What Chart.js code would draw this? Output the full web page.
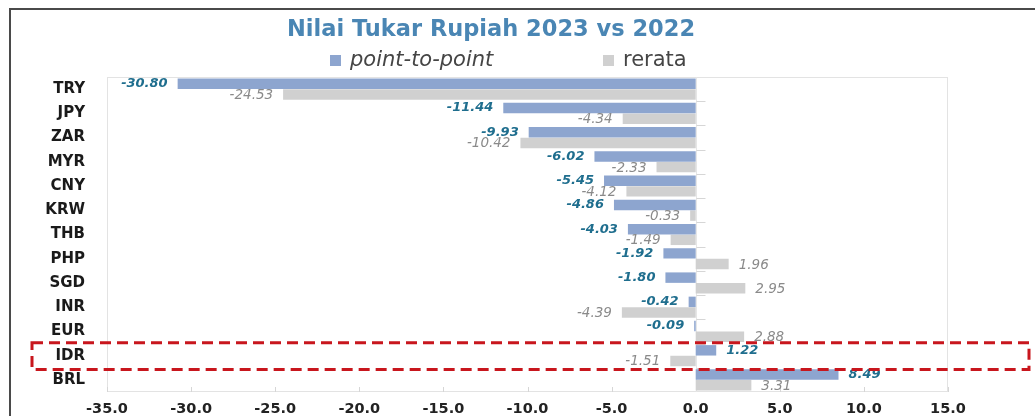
<!DOCTYPE html>
<html>
<head>
<meta charset="utf-8">
<script src="https://cdn.jsdelivr.net/npm/chart.js@4.4.0/dist/chart.umd.min.js"></script>
<style>
  html, body { margin: 0; padding: 0; background: #fff; }
  #wrap { width: 1035px; height: 416px; }
</style>
</head>
<body>
<div id="wrap"><canvas id="rupiahChart" width="1035" height="416"></canvas></div>
<script>
const categories = ["TRY", "JPY", "ZAR", "MYR", "CNY", "KRW", "THB", "PHP", "SGD", "INR", "EUR", "IDR", "BRL"];
const pointToPoint = [-30.80, -11.44, -9.93, -6.02, -5.45, -4.86, -4.03, -1.92, -1.80, -0.42, -0.09, 1.22, 8.49];
const rerata = [-24.53, -4.34, -10.42, -2.33, -4.12, -0.33, -1.49, 1.96, 2.95, -4.39, 2.88, -1.51, 3.31];
const xMin = -35, xMax = 15, xStep = 5;
const highlight = "IDR";

const FONT = "'DejaVu Sans', 'Open Sans', sans-serif";

// ---------- extras: frame, title, legend, value labels, red box ----------
const decor = {
  id: "decor",
  beforeDatasetsDraw(chart) {
    const { ctx, chartArea: a, scales } = chart;
    const x = scales.x;
    ctx.save();
    // plot area border
    ctx.strokeStyle = "#e3e3e3";
    ctx.lineWidth = 1;
    ctx.strokeRect(a.left + 0.5, a.top + 0.5, a.right - a.left - 1, a.bottom - a.top - 1);
    // small inner tick marks on the bottom
    ctx.strokeStyle = "#d6d6d6";
    x.ticks.forEach(t => {
      const px = Math.round(x.getPixelForValue(t.value)) + 0.5;
      ctx.beginPath();
      ctx.moveTo(px, a.bottom - 5);
      ctx.lineTo(px, a.bottom);
      ctx.stroke();
    });
    // axis line at zero + small category ticks
    const x0 = Math.round(x.getPixelForValue(0)) + 0.5;
    ctx.strokeStyle = "#e6e6e6";
    ctx.beginPath();
    ctx.moveTo(x0, a.top);
    ctx.lineTo(x0, a.bottom);
    ctx.stroke();
    ctx.strokeStyle = "#d6d6d6";
    const band = (a.bottom - a.top) / categories.length;
    for (let i = 1; i < categories.length; i++) {
      const py = Math.round(a.top + i * band) + 0.5;
      ctx.beginPath();
      ctx.moveTo(x0, py);
      ctx.lineTo(x0 + 9, py);
      ctx.stroke();
    }
    ctx.restore();
  },
  afterDatasetsDraw(chart) {
    const { ctx, chartArea: a, scales } = chart;
    ctx.save();

    // value labels
    const styles = [
      { font: "italic bold 13px " + FONT, color: "#1f6e8e", dy: 0 },
      { font: "italic 13.5px " + FONT, color: "#8a8a8a", dy: 1 }
    ];
    chart.data.datasets.forEach((ds, di) => {
      const meta = chart.getDatasetMeta(di);
      const st = styles[di];
      ctx.font = st.font;
      ctx.fillStyle = st.color;
      ctx.textBaseline = "middle";
      meta.data.forEach((bar, i) => {
        const v = ds.data[i];
        const txt = v.toFixed(2);
        if (v < 0) {
          ctx.textAlign = "right";
          ctx.fillText(txt, bar.x - 10, bar.y + st.dy);
        } else {
          ctx.textAlign = "left";
          ctx.fillText(txt, bar.x + 10, bar.y + st.dy);
        }
      });
    });

    // red dashed box around highlighted currency
    const band = (a.bottom - a.top) / categories.length;
    const hy = scales.y.getPixelForValue(categories.indexOf(highlight));
    ctx.strokeStyle = "#c8161d";
    ctx.lineWidth = 3;
    ctx.setLineDash([11, 6]);
    ctx.strokeRect(32, hy - band * 0.53, 997, band * 1.1);
    ctx.setLineDash([]);

    // title
    ctx.font = "bold 22.5px " + FONT;
    ctx.fillStyle = "#4a86b4";
    ctx.textAlign = "center";
    ctx.textBaseline = "alphabetic";
    ctx.fillText("Nilai Tukar Rupiah 2023 vs 2022", 491, 36);

    // legend
    const legendX = [330, 603];
    const legendFont = ["italic 21px " + FONT, "21px " + FONT];
    chart.data.datasets.forEach((ds, di) => {
      ctx.fillStyle = ds.backgroundColor;
      ctx.fillRect(legendX[di], 55, 11, 11);
      ctx.font = legendFont[di];
      ctx.fillStyle = "#454545";
      ctx.textAlign = "left";
      ctx.fillText(ds.label, legendX[di] + 20, 66);
    });

    // outer frame
    ctx.strokeStyle = "#4a4a4a";
    ctx.lineWidth = 2;
    ctx.beginPath();
    ctx.moveTo(1035, 9);
    ctx.lineTo(10, 9);
    ctx.lineTo(10, 416);
    ctx.stroke();

    ctx.restore();
  }
};

new Chart(document.getElementById("rupiahChart").getContext("2d"), {
  type: "bar",
  data: {
    labels: categories,
    datasets: [
      {
        label: "point-to-point",
        data: pointToPoint,
        backgroundColor: "#8da5cf",
        categoryPercentage: 0.88,
        barPercentage: 0.98
      },
      {
        label: "rerata",
        data: rerata,
        backgroundColor: "#d0d0d0",
        categoryPercentage: 0.88,
        barPercentage: 0.98
      }
    ]
  },
  options: {
    indexAxis: "y",
    responsive: false,
    animation: false,
    layout: { padding: { left: 0, right: 87, top: 77, bottom: 0 } },
    plugins: {
      legend: { display: false },
      title: { display: false },
      tooltip: { enabled: false }
    },
    scales: {
      x: {
        min: xMin,
        max: xMax,
        afterFit: s => { s.height = 24; s.paddingLeft = 0; s.paddingRight = 0; },
        grid: { display: false, drawTicks: false },
        border: { display: false },
        ticks: {
          stepSize: xStep,
          padding: 9,
          color: "#222",
          font: { family: FONT, size: 14.5, weight: "bold" },
          callback: v => Number(v).toFixed(1)
        }
      },
      y: {
        afterFit: s => { s.width = 107; s.paddingTop = 0; s.paddingBottom = 0; },
        grid: { display: false, drawTicks: false },
        border: { display: false },
        ticks: {
          padding: 22,
          color: "#1a1a1a",
          font: { family: FONT, size: 15, weight: "bold" }
        }
      }
    }
  },
  plugins: [decor]
});
</script>
</body>
</html>
